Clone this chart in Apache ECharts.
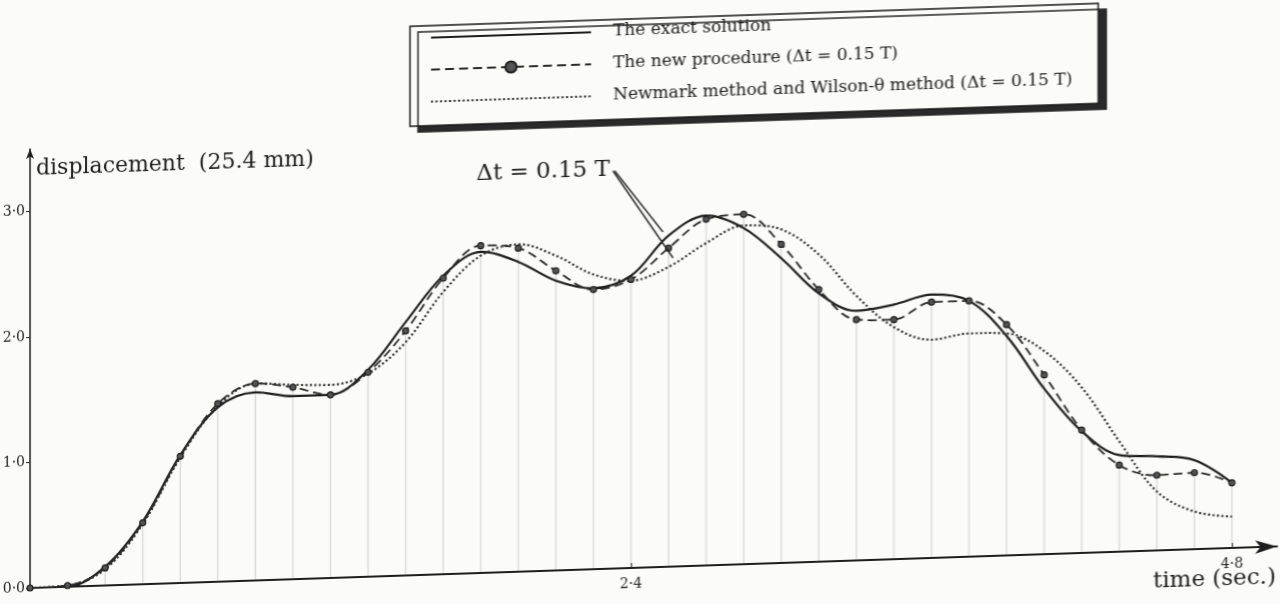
<!DOCTYPE html>
<html>
<head>
<meta charset="utf-8">
<script src="https://cdn.jsdelivr.net/npm/echarts@6/dist/echarts.min.js"></script>
<style>
  html, body { margin: 0; padding: 0; background: #fbfbfa; overflow: hidden; width: 1280px; height: 604px; }
  #chart { width: 1280px; height: 680px; transform: skewY(-1.909deg); transform-origin: 30px 588px; }
</style>
</head>
<body>
<div id="chart"></div>
<script>
// time steps (sec), Δt = 0.15 s
const times = [0, 0.15, 0.3, 0.45, 0.6, 0.75, 0.9, 1.05, 1.2, 1.35, 1.5, 1.65, 1.8, 1.95, 2.1, 2.25, 2.4,
               2.55, 2.7, 2.85, 3.0, 3.15, 3.3, 3.45, 3.6, 3.75, 3.9, 4.05, 4.2, 4.35, 4.5, 4.65, 4.8];
// displacement (25.4 mm)
const exactSolution = [0, 0, 0.15, 0.50, 1.02, 1.39, 1.50, 1.46, 1.46, 1.65, 2.02, 2.38, 2.56, 2.47, 2.31, 2.24, 2.33,
                       2.64, 2.79, 2.68, 2.43, 2.14, 1.99, 2.03, 2.10, 2.04, 1.75, 1.32, 0.97, 0.77, 0.75, 0.71, 0.52];
const newProcedure = [0, 0.01, 0.14, 0.49, 1.01, 1.42, 1.57, 1.53, 1.46, 1.63, 1.95, 2.36, 2.61, 2.58, 2.39, 2.23, 2.30,
                      2.54, 2.76, 2.79, 2.54, 2.17, 1.92, 1.91, 2.04, 2.04, 1.84, 1.43, 0.98, 0.69, 0.60, 0.61, 0.52];
const newmarkWilson = [0, 0.01, 0.13, 0.48, 1.00, 1.40, 1.57, 1.55, 1.54, 1.62, 1.86, 2.25, 2.53, 2.61, 2.51, 2.35, 2.29,
                       2.39, 2.57, 2.70, 2.66, 2.45, 2.11, 1.85, 1.74, 1.78, 1.77, 1.62, 1.32, 0.88, 0.47, 0.30, 0.25];
const xTickValues = [2.4, 4.8];
const yTickValues = [0, 1, 2, 3];
const seriesNames = ['The exact solution', 'The new procedure (\u0394t = 0.15 T)', 'Newmark method and Wilson-\u03B8 method (\u0394t = 0.15 T)'];
const annotationText = '\u0394t = 0.15 T';

const pair = arr => times.map((t, i) => [t, arr[i]]);
const ink = '#1e1e1e';
const serif = "'DejaVu Serif', 'Liberation Serif', serif";
const fmt = v => v.toFixed(1).replace('.', '\u00B7');

const chart = echarts.init(document.getElementById('chart'), null, { renderer: 'canvas' });
chart.setOption({
  backgroundColor: '#fbfbfa',
  animation: false,
  textStyle: { fontFamily: serif, color: ink },
  grid: { left: 30, right: 3, top: 149, bottom: 92, outerBoundsMode: 'none', containLabel: false },
  legend: {
    orient: 'vertical', left: 410, top: 39,
    data: [
      { name: seriesNames[0], itemStyle: { opacity: 0 } },
      { name: seriesNames[1] },
      { name: seriesNames[2], itemStyle: { opacity: 0 } }
    ],
    itemWidth: 160, itemHeight: 14, itemGap: 12,
    padding: [2, 26, 14, 20],
    backgroundColor: '#fbfbfa', borderColor: '#1a1a1a', borderWidth: 1.5,
    shadowColor: '#2a2a2a', shadowOffsetX: 8, shadowOffsetY: 6, shadowBlur: 0,
    textStyle: { fontFamily: serif, fontSize: 17, color: ink, lineHeight: 20, padding: [0, 0, 0, 17] }
  },
  xAxis: {
    type: 'value', min: 0, max: 4.98, interval: 2.4,
    axisLine: { show: true, onZero: false, lineStyle: { color: ink, width: 2 }, symbol: ['none', 'arrow'], symbolSize: [10, 22] },
    axisTick: { show: true, inside: true, length: 5, customValues: xTickValues, lineStyle: { color: ink } },
    splitLine: { show: false },
    axisLabel: { customValues: xTickValues, formatter: fmt, fontSize: 14, color: ink, margin: 9 },
    name: 'time (sec.)', nameLocation: 'end', nameGap: -124, nameMoveOverlap: false,
    nameTextStyle: { align: 'left', verticalAlign: 'top', padding: [20, 0, 0, 0], fontSize: 23, color: ink, fontFamily: serif }
  },
  yAxis: {
    type: 'value', min: 0, max: 3.5, interval: 1,
    axisLine: { show: true, lineStyle: { color: ink, width: 1.5 }, symbol: ['none', 'arrow'], symbolSize: [6, 10] },
    axisTick: { show: true, length: 4, customValues: yTickValues, lineStyle: { color: ink } },
    splitLine: { show: false },
    axisLabel: { customValues: yTickValues, formatter: fmt, fontSize: 14, color: ink, margin: 5 },
    name: 'displacement  (25.4 mm)', nameLocation: 'end', nameGap: -20, nameMoveOverlap: false,
    nameTextStyle: { align: 'left', verticalAlign: 'middle', padding: [0, 0, 0, 6], fontSize: 22, color: ink, fontFamily: serif }
  },
  series: [
    {
      name: 'drop lines', type: 'bar', data: pair(newProcedure), barWidth: 1, silent: true, z: 1,
      itemStyle: { color: 'rgba(90,90,90,0.28)' }
    },
    {
      name: seriesNames[0], type: 'line', data: pair(exactSolution), smooth: 0.35, symbol: 'none', z: 3,
      lineStyle: { color: ink, width: 2.2 }, itemStyle: { color: ink },
      markLine: {
        silent: true, symbol: ['none', 'none'], label: { show: false },
        lineStyle: { color: ink, width: 1.5, type: 'solid' },
        data: [
          [{ coord: [2.328, 3.17] }, { coord: [2.568, 2.46] }],
          [{ coord: [2.335, 3.17] }, { coord: [2.528, 2.67] }]
        ]
      },
      markPoint: {
        silent: true,
        data: [{ coord: [2.049, 3.18], symbol: 'circle', symbolSize: 0,
                 label: { show: true, position: 'inside', formatter: annotationText, fontSize: 23, color: ink, fontFamily: serif } }]
      }
    },
    {
      name: seriesNames[1], type: 'line', data: pair(newProcedure), smooth: 0.35, z: 4,
      symbol: 'circle', symbolSize: 6, showAllSymbol: true,
      lineStyle: { color: '#2a2a2a', width: 1.8, type: [9, 5] },
      itemStyle: { color: '#555', borderColor: ink, borderWidth: 1.2 }
    },
    {
      name: seriesNames[2], type: 'line', data: pair(newmarkWilson), smooth: 0.35, symbol: 'none', z: 3,
      lineStyle: { color: '#2a2a2a', width: 2.2, type: [2, 2.5] }, itemStyle: { color: '#2a2a2a' }
    }
  ]
});
</script>
</body>
</html>
